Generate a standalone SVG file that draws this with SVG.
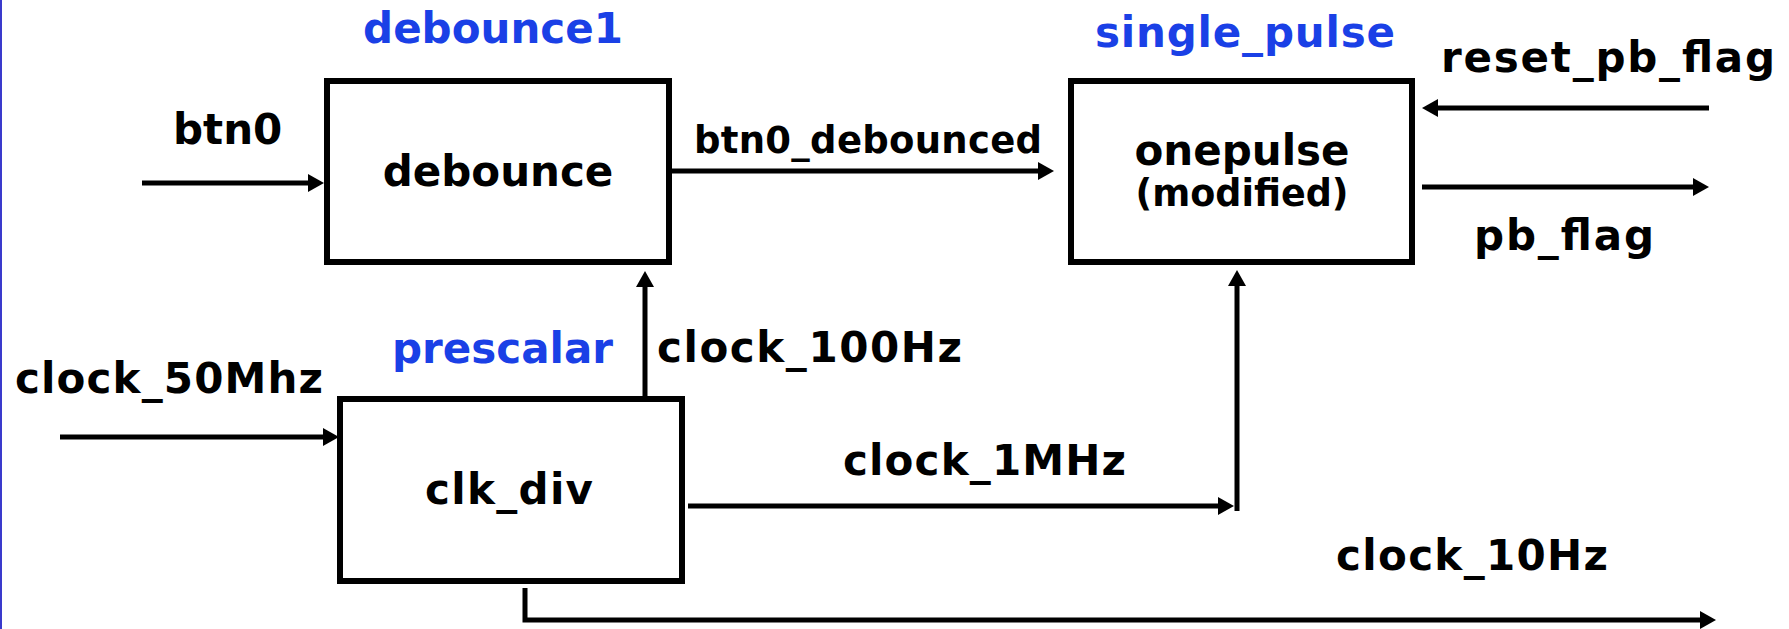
<svg xmlns="http://www.w3.org/2000/svg" width="1789" height="629" viewBox="0 0 1789 629">
  <style>
    .box { fill: #ffffff; stroke: #000000; stroke-width: 6; }
    .wire { fill: none; stroke: #000000; stroke-width: 5; }
    .lbl { font-family: "DejaVu Sans", "Liberation Sans", sans-serif; font-weight: bold; fill: #000000; }
    .inst { font-family: "DejaVu Sans", "Liberation Sans", sans-serif; font-weight: bold; fill: #1a40e6; }
    .mid { text-anchor: middle; }
  </style>
  <defs>
    <marker id="arrow" markerUnits="userSpaceOnUse" markerWidth="18" markerHeight="20" refX="0" refY="9" orient="auto" overflow="visible">
      <path d="M0,0 L16,9 L0,18 Z" fill="#000000"/>
    </marker>
  </defs>

  <rect x="0" y="0" width="1789" height="629" fill="#ffffff"/>
  <!-- page edge rule -->
  <rect x="0" y="0" width="2" height="629" fill="#3a3acc"/>

  <!-- connectors -->
  <g id="connectors">
    <line class="wire" x1="142" y1="183" x2="308" y2="183" marker-end="url(#arrow)"/>
    <line class="wire" x1="672" y1="171" x2="1038" y2="171" marker-end="url(#arrow)"/>
    <line class="wire" x1="1709" y1="108" x2="1438" y2="108" marker-end="url(#arrow)"/>
    <line class="wire" x1="1422" y1="187" x2="1693" y2="187" marker-end="url(#arrow)"/>
    <line class="wire" x1="60" y1="437" x2="323" y2="437" marker-end="url(#arrow)"/>
    <line class="wire" x1="645" y1="396" x2="645" y2="287" marker-end="url(#arrow)"/>
    <line class="wire" x1="688" y1="506" x2="1218" y2="506" marker-end="url(#arrow)"/>
    <line class="wire" x1="1237" y1="511" x2="1237" y2="286" marker-end="url(#arrow)"/>
    <polyline class="wire" points="525,588 525,620 1700,620" marker-end="url(#arrow)"/>
  </g>

  <!-- debounce instance -->
  <g id="debounce1">
    <rect class="box" x="327" y="81" width="342" height="181"/>
    <text class="inst mid" x="493" y="43" font-size="42">debounce1</text>
    <text class="lbl mid" x="498" y="186" font-size="42">debounce</text>
  </g>

  <!-- one-pulse instance -->
  <g id="single_pulse">
    <rect class="box" x="1071" y="81" width="341" height="181"/>
    <text class="inst" x="1095" y="47" font-size="42" textLength="300">single_pulse</text>
    <text class="lbl mid" x="1242" y="165" font-size="42">onepulse</text>
    <text class="lbl mid" x="1242" y="206" font-size="36.5">(modified)</text>
  </g>

  <!-- clock divider instance -->
  <g id="prescalar">
    <rect class="box" x="340" y="399" width="342" height="182"/>
    <text class="inst" x="392" y="363" font-size="42">prescalar</text>
    <text class="lbl mid" x="509" y="504" font-size="42" textLength="168">clk_div</text>
  </g>

  <!-- signal names -->
  <g id="signals">
    <text class="lbl" x="173" y="144" font-size="42">btn0</text>
    <text class="lbl" x="694" y="153" font-size="37" textLength="348">btn0_debounced</text>
    <text class="lbl" x="1441" y="72" font-size="42" textLength="334">reset_pb_flag</text>
    <text class="lbl" x="1474" y="250" font-size="42" textLength="180">pb_flag</text>
    <text class="lbl" x="15" y="393" font-size="42" textLength="308">clock_50Mhz</text>
    <text class="lbl" x="657" y="362" font-size="42" textLength="305">clock_100Hz</text>
    <text class="lbl" x="843" y="475" font-size="42" textLength="283">clock_1MHz</text>
    <text class="lbl" x="1336" y="570" font-size="42" textLength="272">clock_10Hz</text>
  </g>
</svg>
